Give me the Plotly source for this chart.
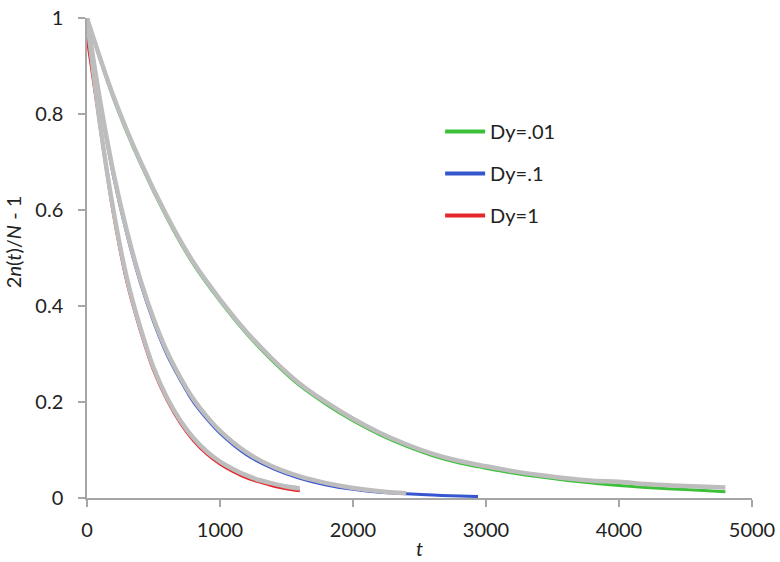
import plotly.graph_objects as go

# === Data ===
# Dy=.01 (green) and its fit (gray)
t_green = [0, 200, 400, 600, 800, 1000, 1200, 1400, 1600, 1800, 2000, 2200, 2400,
           2600, 2800, 3000, 3200, 3400, 3600, 3800, 4000, 4200, 4400, 4600, 4800]
y_green = [1.0, 0.832, 0.698, 0.584, 0.487, 0.410, 0.342, 0.284, 0.234, 0.195, 0.161, 0.132, 0.108,
           0.088, 0.073, 0.062, 0.052, 0.044, 0.037, 0.031, 0.026, 0.022, 0.019, 0.016, 0.013]
fit_green = [1.0, 0.836, 0.702, 0.588, 0.491, 0.414, 0.346, 0.288, 0.238, 0.199, 0.165, 0.136, 0.112,
             0.092, 0.077, 0.066, 0.056, 0.048, 0.041, 0.036, 0.034, 0.029, 0.026, 0.024, 0.022]

# Dy=.1 (blue)
t_blue = [0, 100, 200, 300, 400, 500, 600, 700, 800, 900, 1000,
          1200, 1400, 1600, 1800, 2000, 2200, 2400, 2600, 2800, 2940]
y_blue = [0.97, 0.82, 0.67, 0.55, 0.45, 0.368, 0.30, 0.247, 0.20, 0.165, 0.135,
          0.09, 0.061, 0.041, 0.027, 0.018, 0.012, 0.009, 0.006, 0.004, 0.003]
t_blue_fit = [0, 100, 200, 300, 400, 500, 600, 700, 800, 900, 1000,
              1200, 1400, 1600, 1800, 2000, 2200, 2400]
fit_blue = [1.0, 0.825, 0.676, 0.556, 0.456, 0.374, 0.306, 0.252, 0.206, 0.170, 0.140,
            0.095, 0.065, 0.045, 0.031, 0.021, 0.014, 0.010]

# Dy=1 (red)
t_red = [0, 100, 200, 300, 400, 500, 600, 700, 800, 900, 1000,
         1100, 1200, 1300, 1400, 1500, 1600]
y_red = [0.96, 0.77, 0.59, 0.45, 0.35, 0.266, 0.205, 0.157, 0.12, 0.092, 0.071,
         0.055, 0.042, 0.033, 0.025, 0.019, 0.015]
fit_red = [1.0, 0.775, 0.597, 0.458, 0.356, 0.272, 0.21, 0.162, 0.125, 0.097, 0.076,
           0.060, 0.047, 0.037, 0.030, 0.024, 0.020]

x_ticks = [0, 1000, 2000, 3000, 4000, 5000]
y_ticks = [0, 0.2, 0.4, 0.6, 0.8, 1]

GREEN = "#3cc03a"
BLUE = "#3656d0"
RED = "#e5262b"
FIT = "#bdbdbd"
AXIS = "#a6a6a6"
FONT = dict(family="Lato, Open Sans, sans-serif", size=20, color="#222222")

fig = go.Figure()

series = [
    ("Dy=.01", t_green, y_green, t_green, fit_green, GREEN),
    ("Dy=.1", t_blue, y_blue, t_blue_fit, fit_blue, BLUE),
    ("Dy=1", t_red, y_red, t_red, fit_red, RED),
]

for name, t, y, tf, yf, col in series:
    fig.add_trace(go.Scatter(x=t, y=y, mode="lines", line=dict(color=col, width=3, shape="spline"),
                             showlegend=False, hoverinfo="skip"))
    fig.add_trace(go.Scatter(x=tf, y=yf, mode="lines", line=dict(color=FIT, width=4.5, shape="spline"),
                             showlegend=False, hoverinfo="skip"))

# legend entries (thicker swatches like the original)
for name, _, _, _, _, col in series:
    fig.add_trace(go.Scatter(x=[None], y=[None], mode="lines", name=name, legendgroup=name,
                             line=dict(color=col, width=4)))

fig.update_layout(
    width=780, height=562,
    margin=dict(l=87, r=23, t=5, b=64),
    plot_bgcolor="white", paper_bgcolor="white",
    font=FONT,
    showlegend=True,
    legend=dict(x=0.531, y=0.804, xanchor="left", yanchor="top",
                bgcolor="rgba(0,0,0,0)", font=FONT, tracegroupgap=13,
                itemwidth=40),
    annotations=[
        dict(text="2<i>n</i>(<i>t</i>)/<i>N</i> - 1", textangle=-90, showarrow=False,
             xref="paper", yref="paper", x=-0.112, y=0.534, xanchor="center", yanchor="middle",
             font=FONT),
        dict(text="<i>t</i>", showarrow=False, xref="paper", yref="paper",
             x=0.5, y=-0.104, xanchor="center", yanchor="middle", font=FONT),
    ],
)

fig.update_xaxes(range=[0, 5000], tickvals=x_ticks, ticktext=[str(v) for v in x_ticks],
                 showgrid=False, zeroline=False, showline=True, linecolor=AXIS, linewidth=1.5,
                 ticks="outside", ticklen=7, tickcolor=AXIS, tickwidth=1.5,
                 ticklabelstandoff=6, ticklabeloverflow="allow", fixedrange=True)
fig.update_yaxes(range=[0, 1], tickvals=y_ticks, ticktext=["0", "0.2", "0.4", "0.6", "0.8", "1"],
                 showgrid=False, zeroline=False, showline=True, linecolor=AXIS, linewidth=1.5,
                 ticks="outside", ticklen=7, tickcolor=AXIS, tickwidth=1.5,
                 ticklabelstandoff=11, ticklabeloverflow="allow", fixedrange=True)

# the page's default body margin would push the figure off the window
fig.write_html("out.html", config={"displayModeBar": False},
               post_script="document.body.style.margin='0';")
